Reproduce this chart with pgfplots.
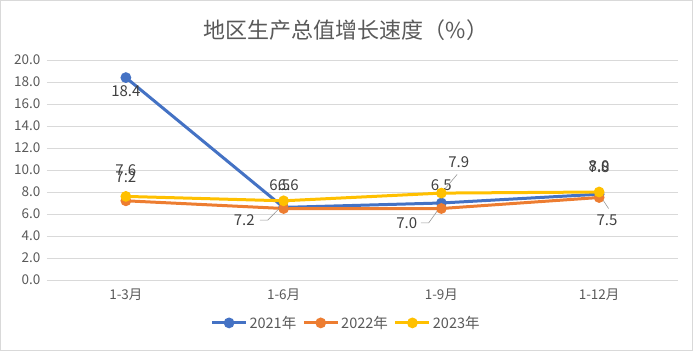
\documentclass[border=0pt]{standalone}
\usepackage{fontspec}
\setmainfont{Noto Sans CJK SC}
\usepackage{pgfplots}
\pgfplotsset{compat=1.18}
\definecolor{c1}{HTML}{4472C4}
\definecolor{c2}{HTML}{ED7D31}
\definecolor{c3}{HTML}{FFC000}
\definecolor{txt}{HTML}{595959}
\definecolor{lab}{HTML}{404040}
\definecolor{grd}{HTML}{D9D9D9}
\begin{document}
\begin{tikzpicture}
\begin{axis}[
  scale only axis, width=631bp, height=220bp,
  xmin=-0.5, xmax=3.5, ymin=0, ymax=20,
  ytick={0,2,...,20},
  xtick={0,1,2,3}, xticklabels={1-3月,1-6月,1-9月,1-12月},
  ymajorgrids, grid style={grd, line width=0.75bp},
  axis line style={draw=none}, major tick length=0pt,
  /pgf/number format/assume math mode=true,
  yticklabel={\pgfmathprintnumber[fixed,fixed zerofill,precision=1]{\tick}},
  yticklabel style={font=\fontsize{13.5bp}{15bp}\selectfont, text=txt, xshift=-3bp},
  xticklabel style={font=\fontsize{13.5bp}{15bp}\selectfont, text=txt, yshift=-5bp},
  clip=false,
  legend columns=3,
  legend style={at={(0.474,-0.195)}, anchor=center, draw=none, fill=none,
    font=\fontsize{14.5bp}{16bp}\selectfont, text=txt,
    /tikz/every even column/.append style={column sep=4bp}},
  legend image code/.code={\draw[#1,mark repeat=2,mark phase=2] plot coordinates {(0bp,0bp)(17bp,0bp)(34bp,0bp)};},
  every axis plot/.append style={line width=3bp, mark=*, mark size=3.8bp, mark options={solid}},
]
\addplot[c1] coordinates {(0,18.4)(1,6.6)(2,7.0)(3,7.8)};
\addlegendentry{2021年}
\addplot[c2] coordinates {(0,7.2)(1,6.5)(2,6.5)(3,7.5)};
\addlegendentry{2022年}
\addplot[c3] coordinates {(0,7.6)(1,7.2)(2,7.9)(3,8.0)};
\addlegendentry{2023年}
% title
\node[font=\fontsize{22bp}{26bp}\selectfont, text=txt] at ([yshift=30bp]rel axis cs:0.474,1) {地区生产总值增长速度（\%）};
% data labels
\begin{scope}[every node/.style={font=\fontsize{15bp}{17bp}\selectfont, text=lab, inner sep=1bp}]
\node at (axis cs:0,17.2) {18.4};
\node at (axis cs:0,9.95) {7.6};
\node at (axis cs:0,9.35) {7.2};
\node at (axis cs:0.975,8.6) {6.5};
\node at (axis cs:1.03,8.6) {6.6};
\node at (axis cs:0.75,5.45) {7.2};
\node at (axis cs:2.11,10.7) {7.9};
\node at (axis cs:2.0,8.6) {6.5};
\node at (axis cs:1.78,5.2) {7.0};
\node at (axis cs:3.0,10.35) {8.0};
\node at (axis cs:3.0,10.3) {7.8};
\node at (axis cs:3.05,5.4) {7.5};
\end{scope}
\begin{scope}[draw=black!40, line width=0.6bp]
\draw (axis cs:0.85,5.45) -- (axis cs:0.9,5.45) -- (axis cs:1.0,6.9);
\draw (axis cs:2.1,9.6) -- (axis cs:2.0,7.9);
\draw (axis cs:1.87,5.2) -- (axis cs:1.92,5.2) -- (axis cs:2.0,6.8);
\draw (axis cs:3.0,7.8) -- (axis cs:3.06,6.5);
\end{scope}
\draw[grd, line width=1bp] ([xshift=-46.5bp,yshift=-70.5bp]rel axis cs:0,0) rectangle ([xshift=14.5bp,yshift=59.5bp]rel axis cs:1,1);
\end{axis}
\end{tikzpicture}
\end{document}
